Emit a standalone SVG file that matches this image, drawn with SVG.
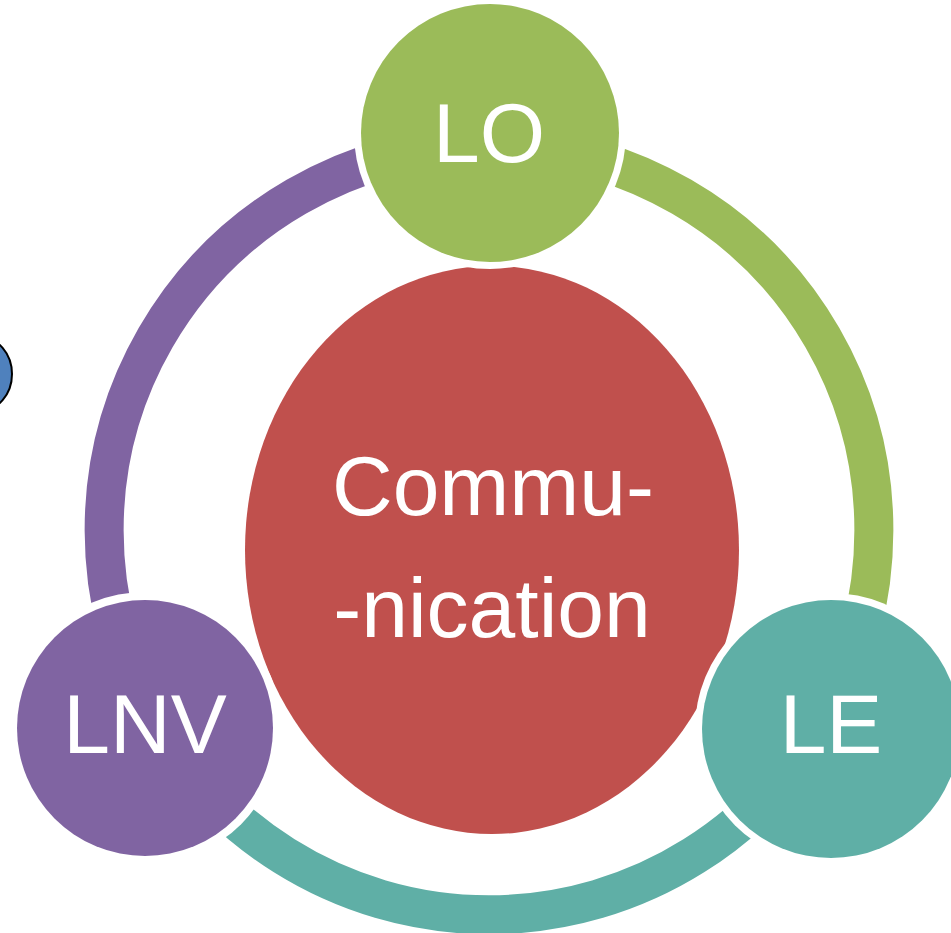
<svg xmlns="http://www.w3.org/2000/svg" width="951" height="933" viewBox="0 0 951 933">
<style>
.arc{fill:none;stroke-width:39}
.gap{fill:#FFFFFF}
.lbl{font-family:"Liberation Sans",Arial,sans-serif;font-size:84px;fill:#FFFFFF;text-anchor:middle}
</style>
<rect width="951" height="933" fill="#FFFFFF"/>
<g id="blue-shape">
<ellipse cx="-20" cy="374" rx="32" ry="37" fill="#4F81BD" stroke="#000000" stroke-width="2"/>
</g>
<g id="connectors">
<path class="arc" stroke="#8064A2" d="M489,145 A385,385 0 0 0 156,723"/>
<path class="arc" stroke="#9BBB59" d="M489,145 A385,385 0 0 1 822,723"/>
<path class="arc" stroke="#5FAFA6" d="M156,723 A385,385 0 0 0 822,723"/>
</g>
<g id="communication">
<ellipse cx="492" cy="550" rx="254" ry="291" class="gap"/>
<ellipse cx="492" cy="550" rx="247" ry="284" fill="#C0504D"/>
<text class="lbl" x="493" y="515">Commu-</text>
<text class="lbl" x="492" y="637">-nication</text>
</g>
<g id="LO">
<circle cx="490" cy="133" r="136" class="gap"/>
<circle cx="490" cy="133" r="129" fill="#9BBB59"/>
<text class="lbl" x="489" y="162">LO</text>
</g>
<g id="LNV">
<circle cx="145" cy="728" r="136" class="gap"/>
<circle cx="145" cy="728" r="128" fill="#8064A2"/>
<text class="lbl" x="145" y="753">LNV</text>
</g>
<g id="LE">
<circle cx="831" cy="729" r="136" class="gap"/>
<circle cx="831" cy="729" r="129" fill="#5FAFA6"/>
<text class="lbl" x="831" y="753">LE</text>
</g>
</svg>
